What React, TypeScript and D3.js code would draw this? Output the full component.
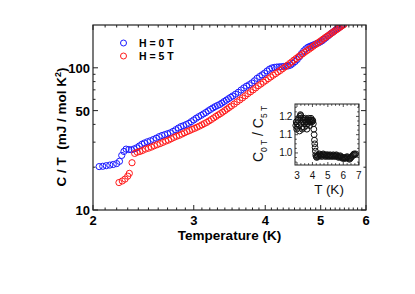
import React from 'react'
import * as d3 from 'd3'

// H = 0 T, C/T in mJ / mol K^2
const tempH0 = [
  2.05, 2.08, 2.11, 2.14, 2.17, 2.2, 2.225, 2.245, 2.265, 2.285, 2.31, 2.335, 2.36, 2.385, 2.41, 2.435,
  2.46, 2.49, 2.52, 2.55, 2.58, 2.61, 2.64, 2.67, 2.7, 2.73, 2.76, 2.79, 2.82, 2.85, 2.88, 2.91, 2.94,
  2.97, 3.0, 3.03, 3.06, 3.09, 3.12, 3.15, 3.18, 3.21, 3.24, 3.27, 3.3, 3.33, 3.36, 3.39, 3.42, 3.45,
  3.48, 3.51, 3.55, 3.59, 3.63, 3.67, 3.71, 3.75, 3.79, 3.83, 3.87, 3.91, 3.95, 3.99, 4.03, 4.07, 4.11,
  4.15, 4.19, 4.23, 4.27, 4.31, 4.35, 4.39, 4.43, 4.47, 4.51, 4.55, 4.59, 4.63, 4.67, 4.71, 4.75, 4.79,
  4.83, 4.87, 4.91, 4.95, 4.99, 5.03, 5.07, 5.11, 5.15, 5.19, 5.23, 5.27, 5.31, 5.35, 5.39, 5.43, 5.47,
]
const ctH0 = [
  20.2, 20.3, 20.5, 20.7, 20.9, 21.2, 22.0, 24.2, 25.8, 26.8, 26.6, 26.5, 26.9, 27.4, 28.2, 29.0,
  29.6, 30.2, 30.7, 31.3, 32.0, 32.8, 33.4, 33.9, 34.4, 34.9, 35.7, 36.7, 37.7, 38.6, 39.2, 39.9, 40.7,
  41.8, 43.0, 44.2, 45.3, 46.3, 47.4, 48.5, 49.8, 51.0, 52.2, 53.3, 54.3, 55.2, 56.5, 57.9, 59.2, 60.6,
  62.0, 63.4, 65.3, 67.3, 69.8, 72.2, 74.3, 76.0, 78.2, 81.0, 84.3, 86.8, 89.2, 91.8, 95.0, 97.9, 99.8,
  100.7, 101.2, 101.5, 101.8, 102.2, 102.8, 103.2, 104.5, 107.5, 110.5, 114.5, 119.5, 126, 131.5, 136, 139.5, 141.6,
  143.5, 145.5, 147.5, 149.5, 152, 155, 159, 163, 167.5, 172, 176, 180, 184.5, 188.5, 192.5, 196.5, 200.5,
]

// H = 5 T
const tempH5 = [
  2.22, 2.25, 2.275, 2.3, 2.315, 2.34, 2.365, 2.39, 2.415, 2.44, 2.47, 2.5, 2.53, 2.56, 2.59, 2.62,
  2.65, 2.68, 2.71, 2.74, 2.77, 2.8, 2.83, 2.86, 2.89, 2.92, 2.95, 2.98, 3.01, 3.04, 3.07, 3.1, 3.13,
  3.16, 3.19, 3.22, 3.25, 3.28, 3.31, 3.34, 3.37, 3.4, 3.43, 3.46, 3.49, 3.53, 3.57, 3.61, 3.65, 3.69,
  3.73, 3.77, 3.81, 3.85, 3.89, 3.93, 3.97, 4.01, 4.05, 4.09, 4.13, 4.17, 4.21, 4.25, 4.29, 4.33, 4.37,
  4.41, 4.45, 4.49, 4.53, 4.57, 4.61, 4.65, 4.69, 4.73, 4.77, 4.81, 4.85, 4.89, 4.93, 4.97, 5.01, 5.05,
  5.09, 5.13, 5.17, 5.21, 5.25, 5.29, 5.33, 5.37, 5.41, 5.45, 5.49,
]
const ctH5 = [
  15.6, 16.0, 16.5, 17.3, 18.1, 21.5, 25.0, 25.5, 25.8, 26.2, 26.8, 27.2, 27.7, 28.3, 28.8, 29.3,
  29.9, 30.5, 31.0, 31.7, 32.4, 33.0, 33.5, 34.2, 34.9, 35.6, 36.2, 36.9, 37.5, 38.2, 38.9, 39.7, 40.5,
  41.3, 42.3, 43.3, 44.4, 45.5, 46.6, 47.6, 48.8, 50.0, 51.3, 52.6, 53.9, 55.6, 57.6, 59.4, 61.4, 63.5,
  65.8, 67.8, 70.0, 72.3, 74.8, 76.9, 79.2, 81.5, 83.9, 86.3, 88.7, 91.0, 93.5, 95.8, 98.6, 101.3, 104.0,
  107.0, 110.0, 113.2, 116.3, 119.5, 122.5, 125.5, 128.8, 132.0, 135.0, 138.3, 141.7, 145.0, 148.5, 152.0, 155.5, 159.2,
  163.0, 166.5, 170.0, 174.0, 177.8, 181.7, 185.5, 189.5, 193.5, 197.5, 201.5,
]

// inset: C(0T) / C(5T)
const insetTemp = [
  2.92, 2.95, 2.98, 3.01, 3.04, 3.07, 3.1, 3.13, 3.16, 3.19, 3.22, 3.25, 3.28, 3.31, 3.34, 3.37, 3.4,
  3.43, 3.46, 3.49, 3.52, 3.55, 3.58, 3.61, 3.64, 3.67, 3.7, 3.73, 3.76, 3.79, 3.82, 3.85, 3.88, 3.91,
  3.94, 3.97, 4.0, 4.03, 4.06, 4.09, 4.11, 4.13, 4.15, 4.17, 4.19, 4.21, 4.24, 4.28, 4.32, 4.36, 4.4,
  4.45, 4.5, 4.55, 4.6, 4.65, 4.7, 4.75, 4.8, 4.85, 4.9, 4.95, 5.0, 5.05, 5.1, 5.15, 5.2, 5.25, 5.3,
  5.35, 5.4, 5.45, 5.5, 5.55, 5.6, 5.65, 5.7, 5.75, 5.8, 5.85, 5.9, 5.95, 6.0, 6.05, 6.1, 6.15, 6.2,
  6.25, 6.3, 6.35, 6.4, 6.45, 6.5, 6.55, 6.6, 6.65, 6.7, 6.75, 6.8,
]
const insetRatio = [
  1.15, 1.17, 1.13, 1.16, 1.14, 1.18, 1.19, 1.15, 1.12, 1.2, 1.21, 1.205, 1.19, 1.14, 1.13, 1.18, 1.19,
  1.17, 1.14, 1.16, 1.18, 1.19, 1.17, 1.15, 1.13, 1.16, 1.18, 1.17, 1.19, 1.18, 1.15, 1.17, 1.18, 1.19,
  1.18, 1.17, 1.18, 1.175, 1.16, 1.13, 1.1, 1.07, 1.05, 1.03, 1.01, 0.99, 0.98, 0.975, 0.985, 0.98, 0.99,
  0.995, 0.99, 0.985, 0.98, 0.99, 0.995, 0.99, 0.985, 0.98, 0.99, 0.985, 0.99, 0.98, 0.985, 0.99, 0.985, 0.98, 0.985,
  0.99, 0.985, 0.98, 0.985, 0.99, 0.985, 0.98, 0.975, 0.98, 0.985, 0.98, 0.975, 0.97, 0.975, 0.97, 0.975, 0.97, 0.975,
  0.98, 0.975, 0.97, 0.965, 0.97, 0.975, 0.98, 0.985, 0.99, 0.995, 0.99, 0.995,
]

const xTickLabels = [2, 3, 4, 5, 6]
const yTickLabels = [10, 50, 100]
const insetXTickLabels = [3, 4, 5, 6, 7]
const insetYTickLabels = [1.0, 1.1, 1.2]
const seriesNames = ['H = 0 T', 'H = 5 T']

const W = 415
const H = 294
const plot = { left: 93, right: 366, top: 25, bottom: 210 }
const box = { left: 295, right: 359, top: 104, bottom: 165 }
const font = 'Arial, "Liberation Sans", Helvetica, sans-serif'
const BLUE = '#1a1aff'
const RED = '#ff1a1a'

export default function App() {
  const x = d3.scaleLog().domain([2, 6]).range([plot.left, plot.right])
  const y = d3.scaleLog().domain([10, 200]).range([plot.bottom, plot.top])
  const ix = d3.scaleLinear().domain([2.87, 7.02]).range([box.left, box.right])
  const iy = d3.scaleLinear().domain([0.934, 1.268]).range([box.bottom, box.top])

  // minor ticks
  const xMinor = d3.range(2.1, 6, 0.1).filter(t => Math.abs(t - Math.round(t)) > 0.01)
  const yMinor = [20, 30, 40, 60, 70, 80, 90]
  const ixMinor = d3.range(3.0, 7.0, 0.25).filter(t => Math.abs(t - Math.round(t)) > 0.01)
  const iyMinor = d3.range(0.95, 1.26, 0.025).filter(v => Math.abs(v * 10 - Math.round(v * 10)) > 0.01)

  const series = [
    { name: seriesNames[0], temps: tempH0, vals: ctH0, color: BLUE },
    { name: seriesNames[1], temps: tempH5, vals: ctH5, color: RED },
  ]

  return (
    <svg width={W} height={H} style={{ position: 'absolute', left: 0, top: 0, background: '#fff' }}>
      <defs>
        <clipPath id="plotClip">
          <rect x={plot.left} y={plot.top} width={plot.right - plot.left} height={plot.bottom - plot.top} />
        </clipPath>
      </defs>

      {/* data */}
      <g clipPath="url(#plotClip)">
        {series.map(s => (
          <g key={s.name}>
            {s.temps.map((t, i) => (
              <circle key={i} cx={x(t)} cy={y(s.vals[i])} r={3.1} fill="none" stroke={s.color} strokeWidth={1} />
            ))}
          </g>
        ))}
      </g>

      {/* frame */}
      <rect x={plot.left} y={plot.top} width={plot.right - plot.left} height={plot.bottom - plot.top}
        fill="none" stroke="#222" strokeWidth={1.2} />

      {/* ticks, pointing inward on all four sides */}
      <g stroke="#222" strokeWidth={1}>
        {xTickLabels.map(t => (
          <g key={t}>
            <line x1={x(t)} x2={x(t)} y1={plot.bottom} y2={plot.bottom - 5} />
            <line x1={x(t)} x2={x(t)} y1={plot.top} y2={plot.top + 5} />
          </g>
        ))}
        {xMinor.map(t => (
          <g key={t}>
            <line x1={x(t)} x2={x(t)} y1={plot.bottom} y2={plot.bottom - 2.5} />
            <line x1={x(t)} x2={x(t)} y1={plot.top} y2={plot.top + 2.5} />
          </g>
        ))}
        {yTickLabels.map(v => (
          <g key={v}>
            <line x1={plot.left} x2={plot.left + 5} y1={y(v)} y2={y(v)} />
            <line x1={plot.right} x2={plot.right - 5} y1={y(v)} y2={y(v)} />
          </g>
        ))}
        {yMinor.map(v => (
          <g key={v}>
            <line x1={plot.left} x2={plot.left + 2.5} y1={y(v)} y2={y(v)} />
            <line x1={plot.right} x2={plot.right - 2.5} y1={y(v)} y2={y(v)} />
          </g>
        ))}
      </g>

      <g fontFamily={font} fontWeight="bold" fontSize={13} fill="#000">
        {xTickLabels.map(t => (
          <text key={t} x={x(t)} y={plot.bottom + 15} textAnchor="middle">{t}</text>
        ))}
        {yTickLabels.map(v => (
          <text key={v} x={plot.left - 3} y={y(v) + 5} textAnchor="end">{v}</text>
        ))}
        <text x={(plot.left + plot.right) / 2} y={240} textAnchor="middle" fontSize={13.5}>Temperature (K)</text>
        <text transform={`translate(66,127) rotate(-90)`} textAnchor="middle" fontSize={13.5} style={{ whiteSpace: 'pre' }}>
          C / T  (mJ / mol K<tspan dy={-5} fontSize={9}>2</tspan><tspan dy={5}>)</tspan>
        </text>
      </g>

      {/* legend */}
      <g fontFamily={font} fontWeight="bold" fontSize={10.5}>
        {series.map((s, i) => (
          <g key={s.name} transform={`translate(123.5,${43 + i * 13})`}>
            <circle r={3} fill="none" stroke={s.color} strokeWidth={1} />
            <text x={15.5} y={3.8} style={{ whiteSpace: 'pre' }}>{s.name}</text>
          </g>
        ))}
      </g>

      {/* inset */}
      <rect x={box.left} y={box.top} width={box.right - box.left} height={box.bottom - box.top}
        fill="#fff" stroke="#222" strokeWidth={1} />
      <g>
        {insetTemp.map((t, i) => (
          <circle key={i} cx={ix(t)} cy={iy(insetRatio[i])} r={2.9} fill="none" stroke="#111" strokeWidth={1} />
        ))}
      </g>
      <g stroke="#222" strokeWidth={0.8}>
        {insetXTickLabels.map(t => (
          <g key={t}>
            <line x1={ix(t)} x2={ix(t)} y1={box.bottom} y2={box.bottom - 3} />
            <line x1={ix(t)} x2={ix(t)} y1={box.top} y2={box.top + 3} />
          </g>
        ))}
        {ixMinor.map(t => (
          <g key={t}>
            <line x1={ix(t)} x2={ix(t)} y1={box.bottom} y2={box.bottom - 1.8} />
            <line x1={ix(t)} x2={ix(t)} y1={box.top} y2={box.top + 1.8} />
          </g>
        ))}
        {insetYTickLabels.map(v => (
          <g key={v}>
            <line x1={box.left} x2={box.left + 3} y1={iy(v)} y2={iy(v)} />
            <line x1={box.right} x2={box.right - 3} y1={iy(v)} y2={iy(v)} />
          </g>
        ))}
        {iyMinor.map(v => (
          <g key={v}>
            <line x1={box.left} x2={box.left + 1.8} y1={iy(v)} y2={iy(v)} />
            <line x1={box.right} x2={box.right - 1.8} y1={iy(v)} y2={iy(v)} />
          </g>
        ))}
      </g>
      <g fontFamily={font} fontSize={10} fill="#111">
        {insetXTickLabels.map(t => (
          <text key={t} x={ix(t)} y={178.5} textAnchor="middle">{t}</text>
        ))}
        {insetYTickLabels.map(v => (
          <text key={v} x={292} y={iy(v) + 3.5} textAnchor="end" letterSpacing={-0.4}>{v.toFixed(1)}</text>
        ))}
        <text x={(box.left + box.right) / 2 + 2} y={194} textAnchor="middle" fontSize={13.5}>T (K)</text>
        <text transform={`translate(263,134) rotate(-90)`} textAnchor="middle" fontSize={14} style={{ whiteSpace: 'pre' }}>
          C<tspan dy={4} fontSize={8.5}>0 T</tspan><tspan dy={-4}> / C</tspan><tspan dy={4} fontSize={8.5}>5 T</tspan>
        </text>
      </g>
    </svg>
  )
}
